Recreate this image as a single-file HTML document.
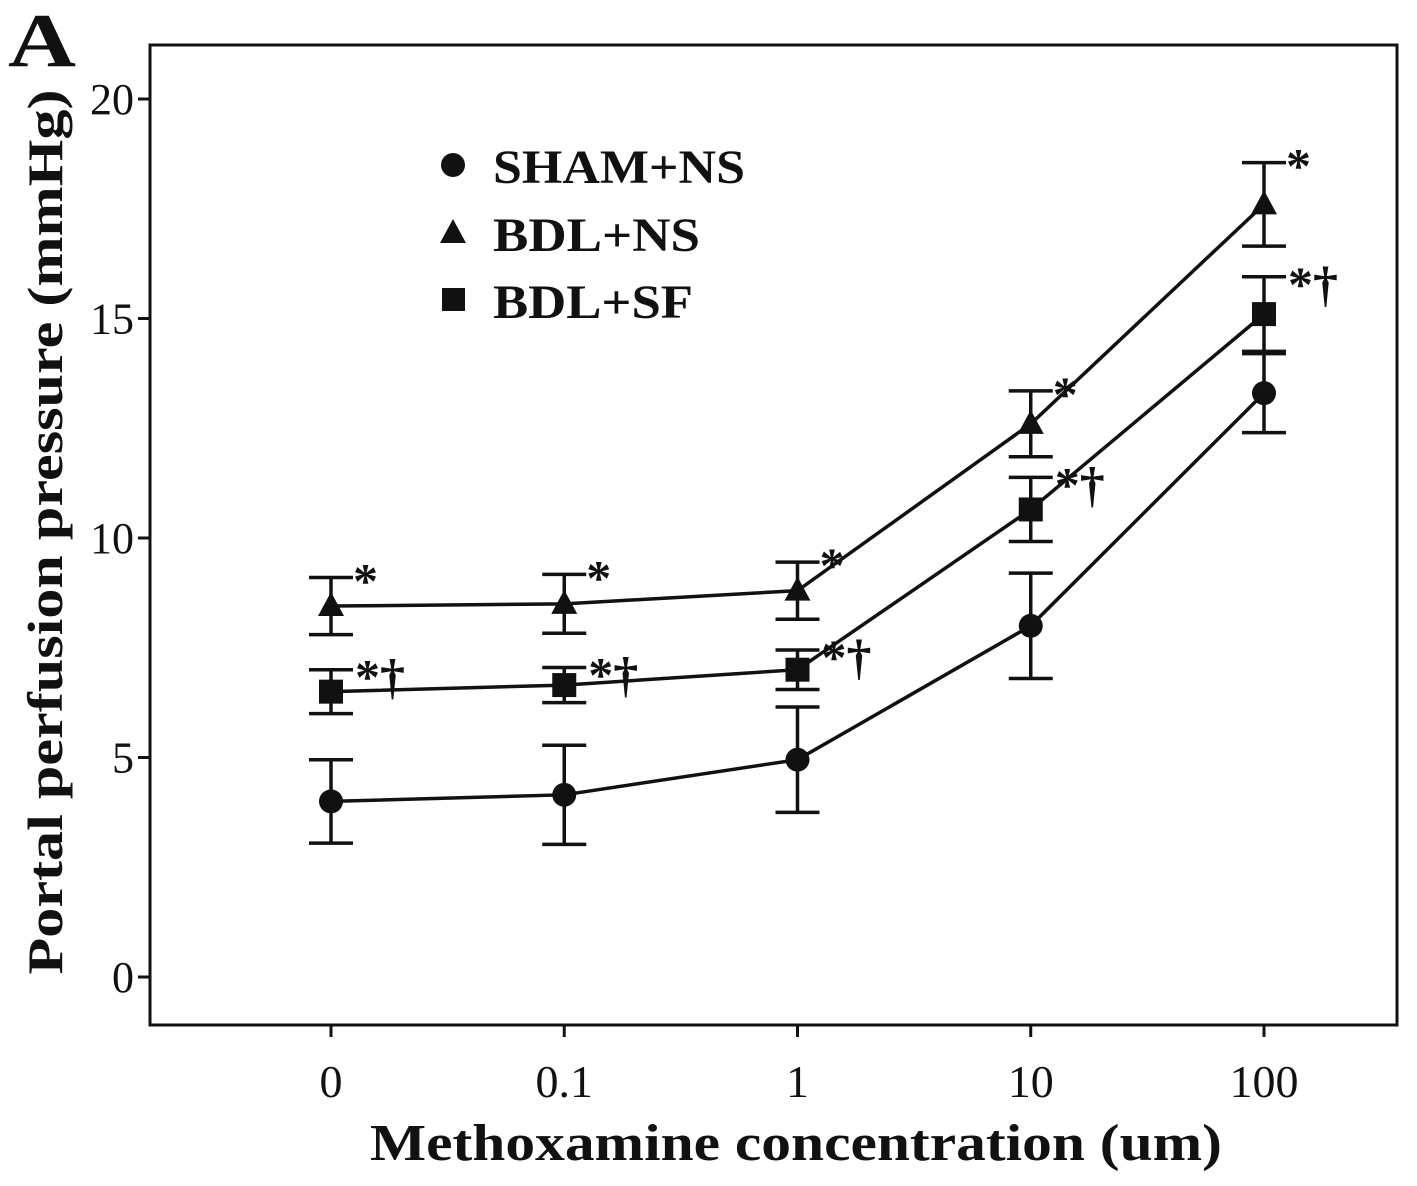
<!DOCTYPE html>
<html><head><meta charset="utf-8"><style>
html,body{margin:0;padding:0;background:#fff;}
svg text{font-family:"Liberation Serif",serif;fill:#111;}
</style></head><body>
<svg id="chart" width="1417" height="1181" viewBox="0 0 1417 1181" xmlns="http://www.w3.org/2000/svg">
<text x="8" y="66" font-size="76" font-weight="bold" textLength="68" lengthAdjust="spacingAndGlyphs">A</text>
<rect x="150" y="45" width="1247" height="980" fill="none" stroke="#111" stroke-width="3"/>
<g id="yticks"></g>
<g id="xticks"></g>
<text transform="translate(62,532) rotate(-90)" text-anchor="middle" font-size="50" font-weight="bold" textLength="885" lengthAdjust="spacingAndGlyphs">Portal perfusion pressure (mmHg)</text>
<text x="796" y="1160" text-anchor="middle" font-size="52" font-weight="bold" textLength="852" lengthAdjust="spacingAndGlyphs">Methoxamine concentration (um)</text>
<g id="series"></g>
<g>
<circle cx="453" cy="165" r="12" fill="#111"/>
<text x="493" y="183" font-size="48" font-weight="bold" textLength="252" lengthAdjust="spacingAndGlyphs">SHAM+NS</text>
<polygon points="453,219 466,243 440,243" fill="#111"/>
<text x="493" y="251" font-size="48" font-weight="bold" textLength="207" lengthAdjust="spacingAndGlyphs">BDL+NS</text>
<rect x="442" y="288" width="23" height="23" fill="#111"/>
<text x="493" y="318" font-size="48" font-weight="bold" textLength="200" lengthAdjust="spacingAndGlyphs">BDL+SF</text>
</g>
</svg>
<script>
const categories = ["0","0.1","1","10","100"];
const yTicks = [0,5,10,15,20];
const shamValues = [4.0,4.15,4.95,8.0,13.3];
const shamErrors = [0.95,1.13,1.2,1.2,0.9];
const bdlNsValues = [8.45,8.5,8.8,12.6,17.6];
const bdlNsErrors = [0.65,0.67,0.65,0.75,0.95];
const bdlSfValues = [6.5,6.65,7.0,10.65,15.1];
const bdlSfErrors = [0.5,0.4,0.45,0.73,0.85];
const bdlNsLabels = ["*","*","*","*","*"];
const bdlSfLabels = ["*†","*†","*†","*†","*†"];

const NS="http://www.w3.org/2000/svg";
function y(v){return 977 - v*43.9;}
function x(i){return 331 + i*233.25;}
function mk(tag,attrs,parent){const e=document.createElementNS(NS,tag);for(const k in attrs)e.setAttribute(k,attrs[k]);parent.appendChild(e);return e;}

const yt=document.getElementById('yticks');
yTicks.forEach(v=>{
  const l=mk('line',{x1:138,x2:150,y1:y(v),y2:y(v),stroke:'#111','stroke-width':3},yt);
  
  
  const t=mk('text',{x:134,y:y(v)+15,'text-anchor':'end','font-size':44},yt);
  
  
  t.textContent=v;
});
const xt=document.getElementById('xticks');
categories.forEach((c,i)=>{
  const l=mk('line',{x1:x(i),x2:x(i),y1:1025,y2:1037,stroke:'#111','stroke-width':3},xt);
  
  
  const t=mk('text',{x:x(i),y:1097,'text-anchor':'middle','font-size':46},xt);
  
  
  t.textContent=c;
});

const sg=document.getElementById('series');
function drawSeries(name,vals,errs,shape,labels,lx,ly){
  const g=mk('g',{},sg);
  
  
  const pl=mk('polyline',{points:vals.map((v,i)=>x(i)+','+y(v)).join(' '),fill:'none',stroke:'#111','stroke-width':3.5},g);
  
  
  vals.forEach((v,i)=>{
    const cx=x(i),cy=y(v),t=y(v+errs[i]),b=y(v-errs[i]);
    const eb=mk('path',{d:`M${cx},${t}V${b}M${cx-22},${t}H${cx+22}M${cx-22},${b}H${cx+22}`,stroke:'#111','stroke-width':3.5,fill:'none'},g);
    
    
    let m;
    if(shape==='circle') m=mk('circle',{cx:cx,cy:cy,r:12,fill:'#111'},g);
    else if(shape==='tri') m=mk('polygon',{points:`${cx},${cy-14} ${cx+13},${cy+10} ${cx-13},${cy+10}`,fill:'#111'},g);
    else m=mk('rect',{x:cx-12,y:cy-12,width:24,height:24,fill:'#111'},g);
    
    
    if(labels){
      const tx=mk('text',{x:cx+lx,y:t+ly,'font-size':50,'font-weight':'bold'},g);
      
      
      tx.textContent=labels[i];
    }
  });
}
drawSeries('sham-ns-series',shamValues,shamErrors,'circle',null);
drawSeries('bdl-sf-series',bdlSfValues,bdlSfErrors,'square',bdlSfLabels,24,24);
drawSeries('bdl-ns-series',bdlNsValues,bdlNsErrors,'tri',bdlNsLabels,22,20);
</script>
</body></html>
